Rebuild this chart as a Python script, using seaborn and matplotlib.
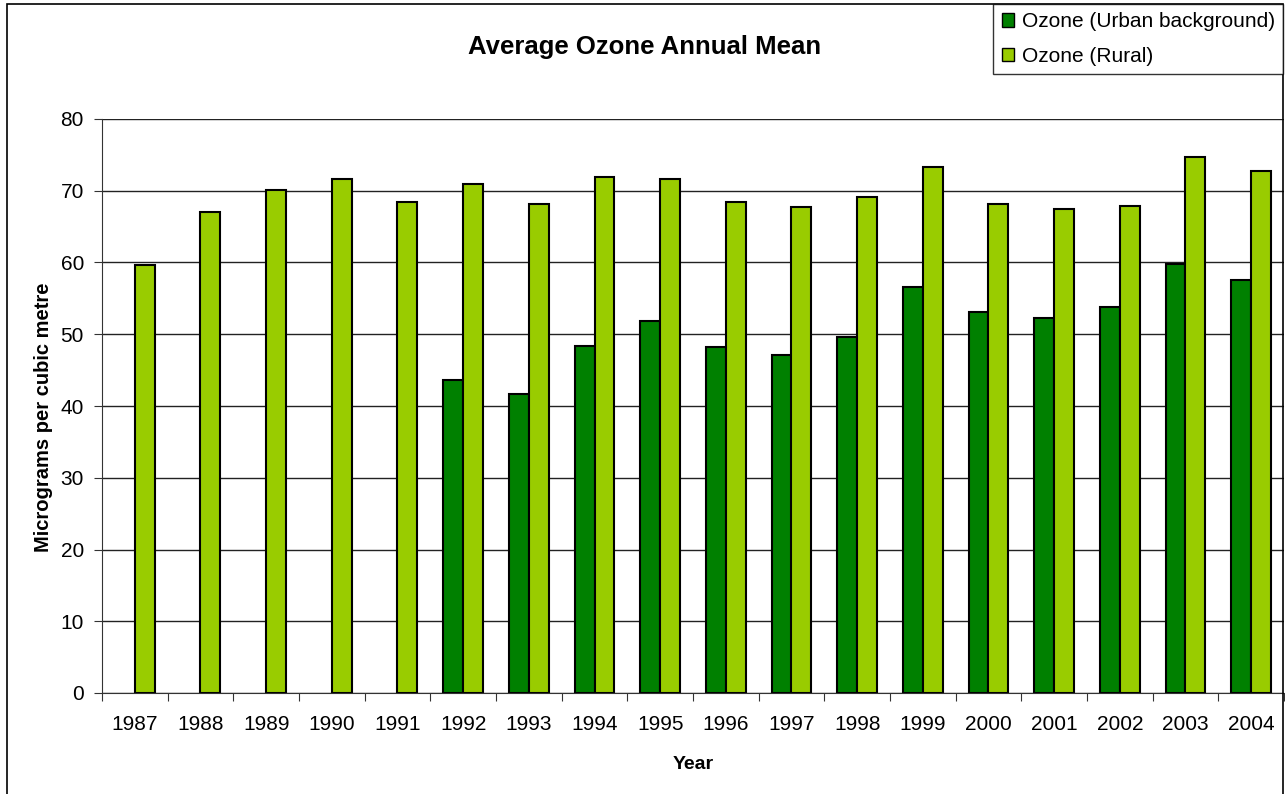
#%% IMPORTS
import matplotlib
matplotlib.use("Agg")
from matplotlib import pyplot as plt
from matplotlib.patches import Rectangle, Patch
from matplotlib.ticker import FixedLocator, NullFormatter
import pandas as pd
import seaborn as sns

#%% DATA
years = [1987, 1988, 1989, 1990, 1991, 1992, 1993, 1994, 1995,
         1996, 1997, 1998, 1999, 2000, 2001, 2002, 2003, 2004]
urban = [None, None, None, None, None, 43.6, 41.7, 48.4, 51.9,
         48.2, 47.1, 49.6, 56.6, 53.1, 52.3, 53.8, 59.8, 57.5]
rural = [59.6, 67.0, 70.1, 71.6, 68.4, 71.0, 68.2, 71.9, 71.6,
         68.4, 67.7, 69.1, 73.3, 68.2, 67.5, 67.9, 74.7, 72.8]
series = ['Ozone (Urban background)', 'Ozone (Rural)']
colours = ['#008000', '#99CC00']

#%% CONFIGURATION
sns.set_style("white")
plt.rcParams['font.family'] = ['Liberation Sans', 'DejaVu Sans']
plt.rcParams['text.color'] = 'black'
plt.rcParams['axes.labelcolor'] = 'black'
plt.rcParams['xtick.color'] = 'black'
plt.rcParams['ytick.color'] = 'black'

#%% MAIN CODE
rows = []
for y, u, r in zip(years, urban, rural):
    if u is not None:
        rows.append({'Year': str(y), 'Series': series[0], 'Value': u})
    rows.append({'Year': str(y), 'Series': series[1], 'Value': r})
df = pd.DataFrame(rows)

fig = plt.figure(figsize=(12.85, 7.94), dpi=100)
ax = fig.add_axes([102/1285, 1 - 693/794, 1182/1285, (693 - 119)/794])

sns.barplot(data=df, x='Year', y='Value', hue='Series', hue_order=series,
            order=[str(y) for y in years], palette=colours, width=0.6,
            edgecolor='black', linewidth=1.5, saturation=1, legend=False, ax=ax)

ax.set_xlim(-0.5, len(years) - 0.5)
ax.set_ylim(0, 80)
ax.set_yticks(range(0, 81, 10))
ax.yaxis.grid(True, color='#222222', linewidth=1)
ax.set_axisbelow(True)
for sp in ['top', 'right']:
    ax.spines[sp].set_visible(False)
ax.spines['left'].set_color('#333333')
ax.spines['bottom'].set_color('#333333')

# category boundaries as ticks, labels in the middle
ax.xaxis.set_major_locator(FixedLocator([i - 0.5 for i in range(len(years) + 1)]))
ax.xaxis.set_major_formatter(NullFormatter())
ax.xaxis.set_minor_locator(FixedLocator(list(range(len(years)))))
ax.set_xticklabels([str(y) for y in years], minor=True)
ax.tick_params(axis='x', which='major', direction='out', length=6, color='#333333')
ax.tick_params(axis='x', which='minor', length=0, pad=16, labelsize=15)
ax.tick_params(axis='y', direction='out', length=6, color='#333333', pad=7, labelsize=15)
ax.tick_params(bottom=True, left=True)

ax.set_xlabel('Year', fontsize=14, fontweight='bold', labelpad=16)
ax.set_ylabel('Micrograms per cubic metre', fontsize=14.5, fontweight='bold')
ax.yaxis.set_label_coords(-0.0415, 0.481)
fig.text(645/1285, 1 - 47/794, 'Average Ozone Annual Mean', fontsize=18.5,
         fontweight='bold', ha='center', va='center')

# outer chart border
fig.patches.append(Rectangle((7/1285, -0.01), 1276/1285, 1 - 4/794 + 0.01,
                             transform=fig.transFigure, fill=False,
                             edgecolor='black', linewidth=1.2))

handles = [Patch(facecolor=c, edgecolor='black', linewidth=1) for c in colours]
leg = fig.legend(handles, series, loc='upper right',
                 bbox_to_anchor=(1283/1285, 1 - 4/794), fontsize=15,
                 frameon=True, fancybox=False, edgecolor='black',
                 handlelength=0.6, handleheight=0.6, handletextpad=0.35,
                 borderpad=0.4, labelspacing=0.75, borderaxespad=0)
leg.get_frame().set_linewidth(1)

fig.savefig('out.png', dpi=100)
